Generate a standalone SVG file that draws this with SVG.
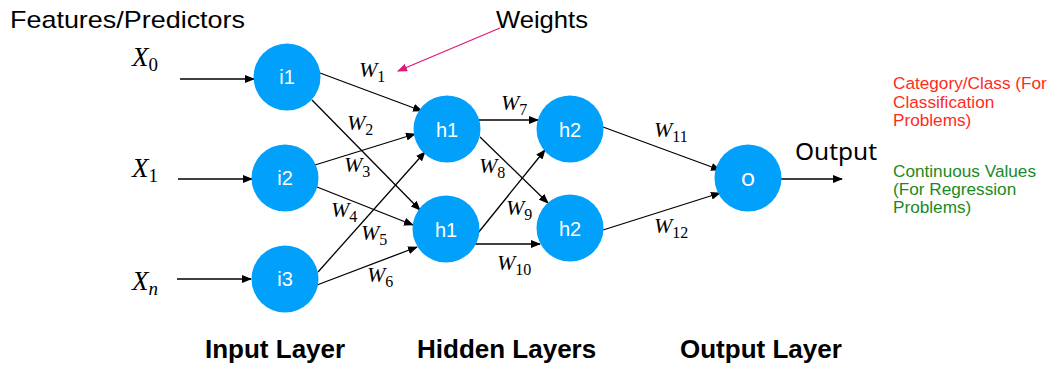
<svg xmlns="http://www.w3.org/2000/svg" width="1051" height="365" viewBox="0 0 1051 365">
<style>
.node{fill:#00a0fb}
.nl{font-family:"Liberation Sans",Arial,sans-serif;font-size:20px;fill:#fff;text-anchor:middle}
.edge{stroke:#000;stroke-width:1.3;fill:none;marker-end:url(#ah)}
.w{font-family:"Liberation Serif","Times New Roman",serif;font-style:italic;font-size:22px;fill:#000}
.x{font-family:"Liberation Serif","Times New Roman",serif;font-style:italic;font-size:27px;fill:#000}
.sub{font-style:normal;font-size:16px}
.xsub{font-size:19px}
.lab{font-family:"Liberation Sans",Arial,sans-serif;font-size:24px;fill:#000}
.layer{font-family:"Liberation Sans",Arial,sans-serif;font-size:26px;font-weight:bold;fill:#000}
.red{font-family:"Liberation Sans",Arial,sans-serif;font-size:17.2px;fill:#ff2b1c}
.green{font-family:"Liberation Sans",Arial,sans-serif;font-size:17.2px;fill:#1a8a1f}
</style>
<defs>
<marker id="ah" viewBox="0 0 10 8" refX="9" refY="4" markerWidth="10" markerHeight="8" markerUnits="userSpaceOnUse" orient="auto">
<path d="M0,0 L10,4 L0,8 z" fill="#000"/>
</marker>
<marker id="ahp" viewBox="0 0 10 8" refX="9" refY="4" markerWidth="10" markerHeight="8" markerUnits="userSpaceOnUse" orient="auto">
<path d="M0,0 L10,4 L0,8 z" fill="#e0197d"/>
</marker>
</defs>
<rect width="1051" height="365" fill="#fff"/>

<g id="labels">
<text class="lab" x="10" y="28" textLength="235" lengthAdjust="spacingAndGlyphs">Features/Predictors</text>
<text class="lab" x="496" y="28" font-size="25" textLength="92" lengthAdjust="spacingAndGlyphs">Weights</text>
<text class="x" x="132" y="66">X<tspan class="sub xsub" dy="5">0</tspan></text>
<text class="x" x="132" y="177">X<tspan class="sub xsub" dy="5">1</tspan></text>
<text class="x" x="132" y="290">X<tspan class="xsub" dy="5">n</tspan></text>
<text style="font-family:'Noto Sans','Open Sans',sans-serif;font-size:23px;fill:#000" x="795" y="160" textLength="82" lengthAdjust="spacingAndGlyphs">Output</text>
<text class="layer" x="205" y="358">Input Layer</text>
<text class="layer" x="417" y="358">Hidden Layers</text>
<text class="layer" x="680" y="358">Output Layer</text>
<text class="red" x="893" y="89">Category/Class (For</text>
<text class="red" x="893" y="108">Classification</text>
<text class="red" x="893" y="126">Problems)</text>
<text class="green" x="893" y="177">Continuous Values</text>
<text class="green" x="893" y="195">(For Regression</text>
<text class="green" x="893" y="213">Problems)</text>
</g>

<g id="connectors">
<line class="edge" x1="180" y1="79" x2="254" y2="79"/>
<line class="edge" x1="178" y1="179" x2="252" y2="179"/>
<line class="edge" x1="177" y1="279" x2="251" y2="279"/>
<line class="edge" x1="320" y1="73" x2="422" y2="111"/>
<line class="edge" x1="312" y1="100" x2="420" y2="210"/>
<line class="edge" x1="315" y1="165" x2="415" y2="134"/>
<line class="edge" x1="317" y1="187" x2="413" y2="225"/>
<line class="edge" x1="318" y1="272" x2="425" y2="152"/>
<line class="edge" x1="317" y1="285" x2="417" y2="247"/>
<line class="edge" x1="478" y1="120" x2="538" y2="120"/>
<line class="edge" x1="480" y1="137" x2="548" y2="203"/>
<line class="edge" x1="478" y1="233" x2="545" y2="150"/>
<line class="edge" x1="475" y1="244" x2="540" y2="244"/>
<line class="edge" x1="603" y1="127" x2="720" y2="170"/>
<line class="edge" x1="603" y1="230" x2="720" y2="193"/>
<line class="edge" x1="781" y1="179" x2="842" y2="179"/>
<line x1="500" y1="28" x2="398" y2="71" stroke="#e0197d" stroke-width="1.3" marker-end="url(#ahp)"/>
<text class="w" x="359" y="77">W<tspan class="sub" dy="5">1</tspan></text>
<text class="w" x="347" y="130">W<tspan class="sub" dy="5">2</tspan></text>
<text class="w" x="344" y="172">W<tspan class="sub" dy="5">3</tspan></text>
<text class="w" x="331" y="217">W<tspan class="sub" dy="5">4</tspan></text>
<text class="w" x="361" y="240">W<tspan class="sub" dy="5">5</tspan></text>
<text class="w" x="367" y="282">W<tspan class="sub" dy="5">6</tspan></text>
<text class="w" x="501" y="110">W<tspan class="sub" dy="5">7</tspan></text>
<text class="w" x="479" y="173">W<tspan class="sub" dy="5">8</tspan></text>
<text class="w" x="506" y="215">W<tspan class="sub" dy="5">9</tspan></text>
<text class="w" x="497" y="270">W<tspan class="sub" dy="5">10</tspan></text>
<text class="w" x="654" y="137">W<tspan class="sub" dy="5">11</tspan></text>
<text class="w" x="654" y="233">W<tspan class="sub" dy="5">12</tspan></text>
</g>

<g id="i1"><circle class="node" cx="287" cy="77" r="33.5"/><text class="nl" x="287" y="84">i1</text></g>
<g id="i2"><circle class="node" cx="285" cy="178" r="33.5"/><text class="nl" x="285" y="185">i2</text></g>
<g id="i3"><circle class="node" cx="285" cy="279" r="33.5"/><text class="nl" x="285" y="286">i3</text></g>
<g id="h1a"><circle class="node" cx="447" cy="129" r="33.5"/><text class="nl" x="447" y="137">h1</text></g>
<g id="h1b"><circle class="node" cx="446" cy="229" r="33.5"/><text class="nl" x="446" y="237">h1</text></g>
<g id="h2a"><circle class="node" cx="570" cy="129" r="33.5"/><text class="nl" x="570" y="137">h2</text></g>
<g id="h2b"><circle class="node" cx="570" cy="228" r="33.5"/><text class="nl" x="570" y="236">h2</text></g>
<g id="o"><circle class="node" cx="748" cy="178" r="33.5"/><text class="nl" style="font-family:'Noto Sans','Open Sans',sans-serif;font-size:24px" x="748" y="186">o</text></g>
</svg>
